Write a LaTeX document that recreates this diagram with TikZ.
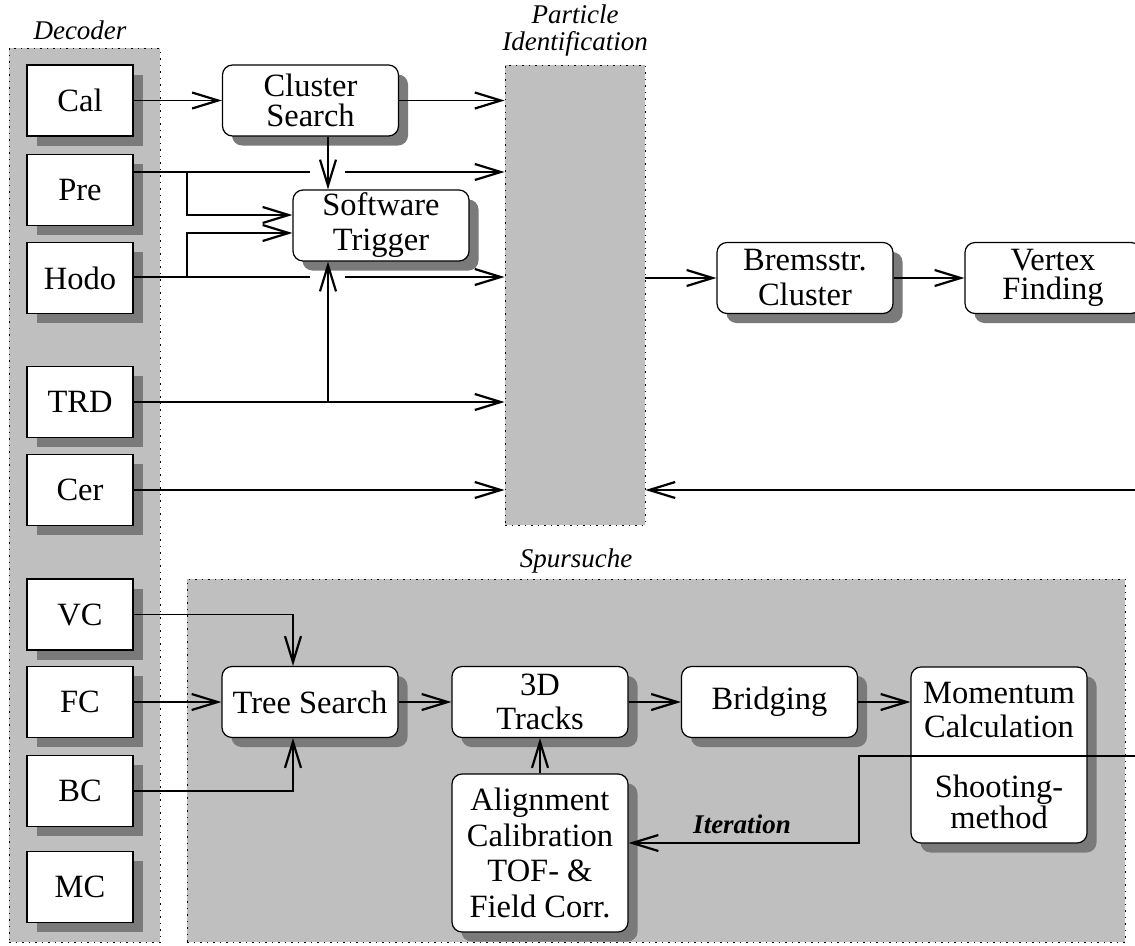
\documentclass[tikz,border=0pt]{standalone}
\usepackage{fontspec}
\setmainfont{Liberation Serif}
\usetikzlibrary{arrows.meta,shadows,calc}
\definecolor{grpgray}{gray}{0.75}
\definecolor{shadowgray}{gray}{0.48}
\begin{document}
\begin{tikzpicture}[x=1pt,y=-1pt,
  every node/.style={inner sep=0pt},
  grp/.style={draw, fill=grpgray, dash pattern=on 1.5pt off 5pt, line width=0.9pt},
  sq/.style={draw, fill=white, line width=1.2pt, minimum width=106pt, minimum height=71pt,
    font=\fontsize{32.5}{35}\selectfont, align=center,
    drop shadow={shadow xshift=9.5pt,shadow yshift=-9.5pt,fill=shadowgray,opacity=1}},
  rb/.style={sq, rounded corners=10pt, minimum width=176pt},
  conn/.style={line width=1.2pt, -{Straight Barb[length=26pt,width=16pt,line width=2.2pt]}},
  ln/.style={line width=1.2pt},
  lab/.style={font=\fontsize{27}{27}\selectfont\itshape, align=center}
]
\useasboundingbox (0,0) rectangle (1135,945);
\clip (0,0) rectangle (1135,945);

% groups
\node[grp, minimum width=151pt, minimum height=894pt] (dec) at (84.5,495) {};
\node[grp, minimum width=938pt, minimum height=363pt] (spur) at (656,760.5) {};
\node[grp, minimum width=140pt, minimum height=460pt] (pid) at (575,295) {};

\node[lab, anchor=base] (declab) at (80,39) {Decoder};
\node[lab, anchor=south] (pidlab) at (575,56) {Particle\\Identification};
\node[lab, anchor=base] (spurlab) at (576,567) {Spursuche};

% decoder boxes
\node[sq] (cal) at (80,100.5) {Cal};
\node[sq] (pre) at (80,190) {Pre};
\node[sq] (hodo) at (80,278) {Hodo};
\node[sq] (trd) at (80,402) {TRD};
\node[sq] (cer) at (80,490) {Cer};
\node[sq] (vc) at (80,614.5) {VC};
\node[sq] (fc) at (80,702) {FC};
\node[sq] (bc) at (80,791) {BC};
\node[sq] (mc) at (80,887) {MC};

% process boxes
\node[rb, font=\fontsize{32.5}{29.5}\selectfont] (cs) at (310.5,100.5) {Cluster\\Search};
\node[rb] (st) at (381,225.5) {Software\\Trigger};
\node[rb] (brems) at (805,278) {Bremsstr.\\Cluster};
\node[rb, font=\fontsize{32.5}{29.5}\selectfont] (vf) at (1053,278) {Vertex\\Finding};
\node[rb] (tree) at (310,702) {Tree Search};
\node[rb, font=\fontsize{32.5}{34}\selectfont] (td) at (540,702) {3D\\Tracks};
\node[rb] (brid) at (769.5,702) {Bridging};
\node[rb, minimum height=176pt] (mom) at (999,755) {};
\node[font=\fontsize{32.5}{34}\selectfont, align=center] (momt) at (999,710) {Momentum\\Calculation};
\node[font=\fontsize{32.5}{28}\selectfont, align=center] (moms) at (999,802) {Shooting-\\method};
\node[rb, minimum height=158pt, font=\fontsize{32.5}{35.5}\selectfont] (align) at (540,853) {Alignment\\Calibration\\TOF- \&\\Field Corr.};

% helper coordinates
\coordinate (preo) at (pre.east |- 0,172);
\coordinate (hodoo) at (hodo.east |- 0,277);
\coordinate (gapl) at (310,0);
\coordinate (gapr) at (345,0);
\coordinate (bx) at (187,0);
\coordinate (vx) at (328,0);
\coordinate (tx) at (293,0);
\coordinate (cerR) at (1135,490);
\coordinate (itR) at (1135,756);
\coordinate (itK) at (859,756);

% connectors (upper part)
\draw[conn] (cal) -- (cs);
\draw[conn] (cs.east) -- (cs.east -| pid.west);
\draw[ln] (preo) -- (gapl |- preo);
\draw[conn] (gapr |- preo) -- (pid.west |- preo);
\draw[conn] (bx |- preo) |- (st.west |- 0,215);
\draw[ln] (hodoo) -- (gapl |- hodoo);
\draw[conn] (gapr |- hodoo) -- (pid.west |- hodoo);
\draw[conn] (bx |- hodoo) |- (st.west |- 0,233);
\draw[conn] (vx |- cs.south) -- (vx |- st.north);
\draw[conn] (trd.east) -- (trd.east -| pid.west);
\draw[conn] (vx |- trd.east) -- (vx |- st.south);
\draw[conn] (cer.east) -- (cer.east -| pid.west);
\draw[conn] (cerR) -- (cerR -| pid.east);
\draw[conn] (pid.east |- brems.west) -- (brems.west);
\draw[conn] (brems) -- (vf);

% connectors (lower part)
\draw[conn] (vc.east) -| (tx |- tree.north);
\draw[conn] (fc) -- (tree);
\draw[conn] (bc.east) -| (tx |- tree.south);
\draw[conn] (tree) -- (td);
\draw[conn] (td) -- (brid);
\draw[conn] (brid.east) -- (brid.east -| mom.west);
\draw[conn] (align) -- (td);
\draw[conn] (itR) -- (itK) |- (align.east |- 0,843);
\node[font=\fontsize{27}{27}\selectfont\bfseries\itshape, anchor=base] (itl) at (742,833) {Iteration};
\end{tikzpicture}
\end{document}
